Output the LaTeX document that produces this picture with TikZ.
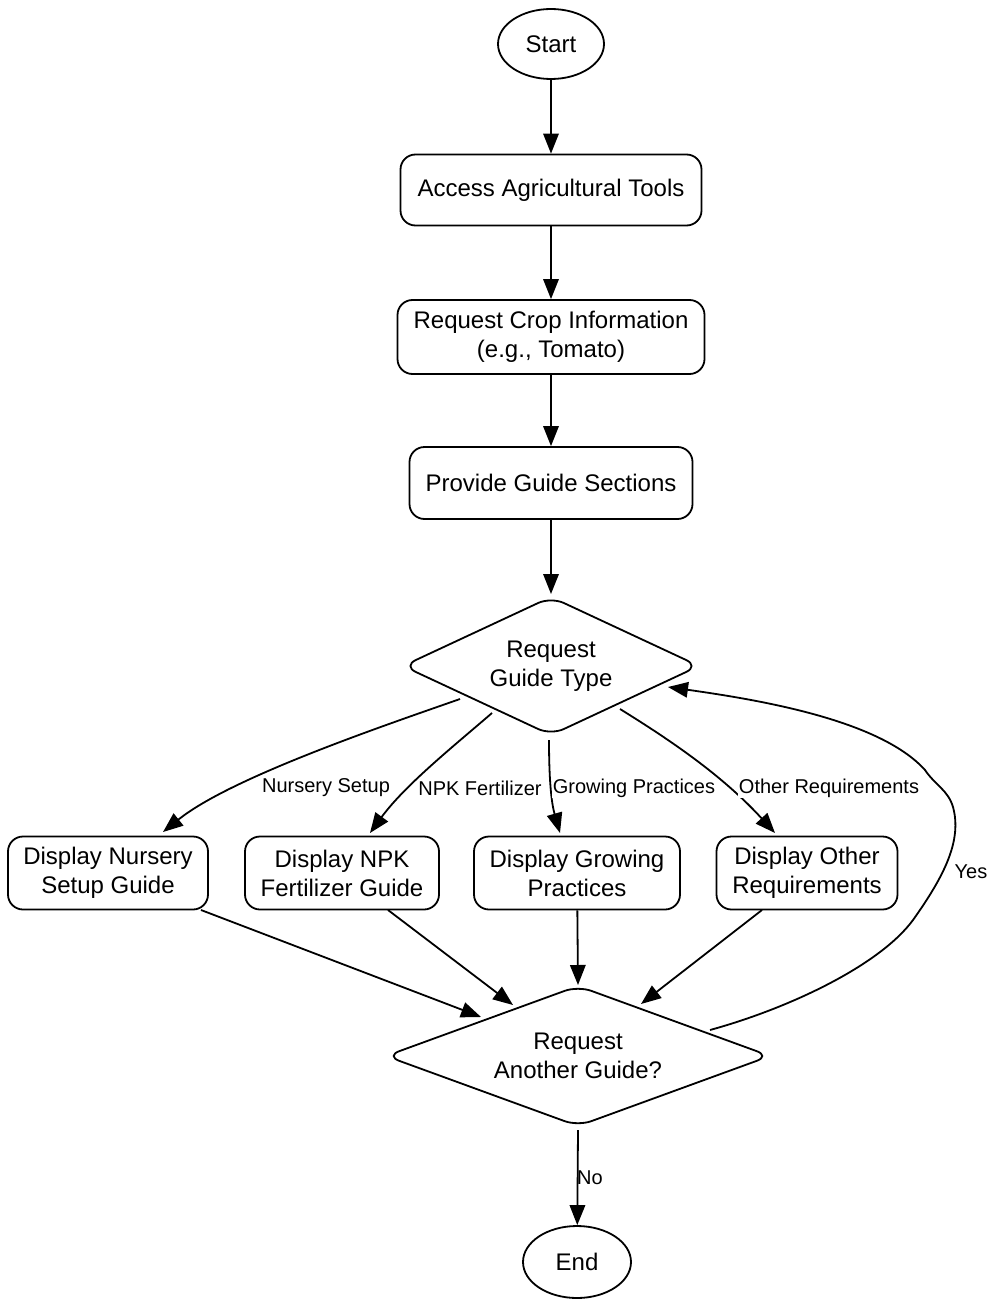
\documentclass[tikz,border=0pt]{standalone}
\usepackage{fontspec}
\setmainfont{Liberation Sans}
\usetikzlibrary{arrows.meta,shapes.geometric,calc}
\begin{document}
\begin{tikzpicture}[x=1pt,y=-1pt,
  every node/.style={font=\fontsize{24}{29}\selectfont, align=center},
  box/.style={draw, line width=1.8pt, rounded corners=15pt, inner sep=0pt, minimum height=73pt},
  term/.style={draw, line width=1.8pt, ellipse, inner sep=0pt},
  decline/.style={draw, line width=1.8pt, rounded corners=14pt},
  arr/.style={line width=1.8pt, -{Triangle[length=20pt,width=15.5pt]}},
  lab/.style={font=\fontsize{20}{24}\selectfont, fill=white, inner sep=1pt}]
\useasboundingbox (0,0) rectangle (997,1308);
\node[term, minimum width=106pt, minimum height=70pt] (start) at (551,44) {Start};
\node[box, minimum width=301pt, minimum height=71pt] (access) at (551,190) {Access Agricultural Tools};
\node[box, minimum width=307pt, minimum height=74pt] (crop) at (551,337) {Request Crop Information\\(e.g., Tomato)};
\node[box, minimum width=283pt, minimum height=72pt] (prov) at (551,483) {Provide Guide Sections};
\node (guide) at (551,666) {Request\\Guide Type};
\draw[decline] ($(guide)+(-148,0)$) -- ($(guide)+(0,-69)$) -- ($(guide)+(148,0)$) -- ($(guide)+(0,69)$) -- cycle;
\node[box, minimum width=200pt] (nurs) at (108,873) {Display Nursery\\Setup Guide};
\node[box, minimum width=194pt] (npk) at (342,873) {Display NPK\\Fertilizer Guide};
\node[box, minimum width=206pt] (grow) at (577,873) {Display Growing\\Practices};
\node[box, minimum width=181pt] (other) at (807,873) {Display Other\\Requirements};
\node (another) at (578,1056) {Request\\Another Guide?};
\draw[decline] ($(another)+(-192,0)$) -- ($(another)+(0,-70)$) -- ($(another)+(192,0)$) -- ($(another)+(0,70)$) -- cycle;
\node[term, minimum width=108pt, minimum height=72pt] (end) at (577,1262) {End};

\draw[arr] (start) -- (access);
\draw[arr] (access) -- (crop);
\draw[arr] (crop) -- (prov);
\draw[arr] (prov) -- ($(guide)+(0,-72)$);

\draw[arr] ($(guide)+(-91,33)$) .. controls (380,727) and (230,778) .. ($(nurs)+(55,-41)$)
  node[lab] at (326,788) {Nursery Setup};
\draw[arr] ($(guide)+(-59,47)$) .. controls (455,745) and (405,785) .. ($(npk)+(28,-40)$)
  node[lab] at (480,788) {NPK Fertilizer};
\draw[arr] ($(guide)+(-2,74)$) .. controls (549,785) and (552,805) .. ($(grow)+(-17,-40)$)
  node[lab] at (634,788) {Growing Practices};
\draw[arr] ($(guide)+(69,43)$) .. controls (670,740) and (722,775) .. ($(other)+(-32,-40)$)
  node[lab] at (829,788) {Other Requirements};

\draw[arr] ($(nurs)+(93,37)$) -- ($(another)+(-97,-39)$);
\draw[arr] ($(npk)+(46,37)$) -- ($(another)+(-65,-51)$);
\draw[arr] (grow) -- ($(another)+(0,-71)$);
\draw[arr] ($(other)+(-45,37)$) -- ($(another)+(63,-52)$);

\draw[arr] ($(another)+(132,-26)$) .. controls (790,1008) and (880,965) .. (913,920)
  .. controls (945,875) and (962,840) .. (953,807)
  .. controls (948,790) and (935,785) .. (925,770)
  .. controls (880,720) and (760,700) .. ($(guide)+(117,21)$);
\node[lab, fill=none] (yes) at (971,872) {Yes};

\draw[arr] ($(another)+(0,74)$) -- (end)
  node[lab, fill=none] at (590,1178) {No};
\end{tikzpicture}
\end{document}
